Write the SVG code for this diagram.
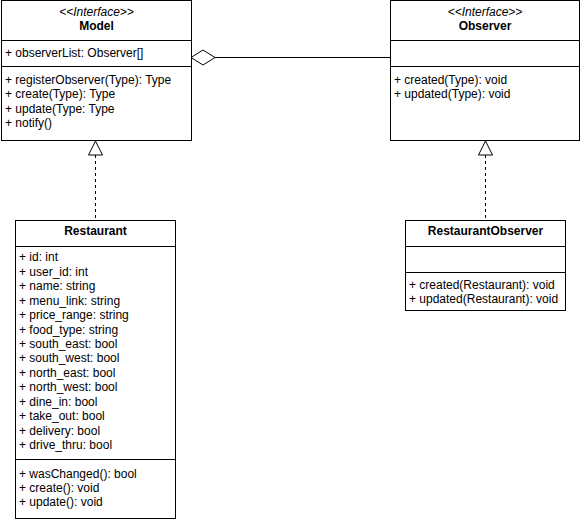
<svg xmlns="http://www.w3.org/2000/svg" width="581" height="521" viewBox="0 0 581 521">
<style>
.box{fill:#fff;stroke:#000;stroke-width:1}
.div{stroke:#000;stroke-width:1}
text{font-family:"Liberation Sans",Arial,Helvetica,sans-serif;font-size:12px;fill:#000}
.st{font-style:italic;text-anchor:middle}
.ti{font-weight:bold;text-anchor:middle}
.edge{fill:none;stroke:#000;stroke-width:1}
.dash{stroke-dasharray:3 3}
.tri{fill:#fff;stroke:#000;stroke-width:1}
</style>
<rect width="581" height="521" fill="#fff"/>
<g id="connectors">
<path class="edge" d="M215 57.5H390"/>
<path class="tri" d="M191 57.5L203 50L215 57.5L203 65Z"/>
<path class="edge dash" d="M95.5 155V220"/>
<path class="tri" d="M95.5 141L88.5 155H102.5Z"/>
<path class="edge dash" d="M485.5 155V220"/>
<path class="tri" d="M485.5 141L478.5 155H492.5Z"/>
</g>
<g id="Model">
<rect class="box" x="1.5" y="0.5" width="190" height="140"/>
<line class="div" x1="1.5" y1="40.5" x2="191.5" y2="40.5"/>
<line class="div" x1="1.5" y1="66.5" x2="191.5" y2="66.5"/>
<text class="st" x="96.5" y="16">&lt;&lt;Interface&gt;&gt;</text>
<text class="ti" x="96.5" y="30">Model</text>
<text x="5" y="57">+ observerList: Observer[]</text>
<text x="5" y="84">+ registerObserver(Type): Type</text>
<text x="5" y="98">+ create(Type): Type</text>
<text x="5" y="113">+ update(Type: Type</text>
<text x="5" y="127">+ notify()</text>
</g>
<g id="Observer">
<rect class="box" x="390.5" y="0.5" width="189" height="140"/>
<line class="div" x1="390.5" y1="40.5" x2="579.5" y2="40.5"/>
<line class="div" x1="390.5" y1="66.5" x2="579.5" y2="66.5"/>
<text class="st" x="485" y="16">&lt;&lt;Interface&gt;&gt;</text>
<text class="ti" x="485" y="30">Observer</text>
<text x="394" y="84">+ created(Type): void</text>
<text x="394" y="98">+ updated(Type): void</text>
</g>
<g id="Restaurant">
<rect class="box" x="15.5" y="220.5" width="160" height="298"/>
<line class="div" x1="15.5" y1="246.5" x2="175.5" y2="246.5"/>
<line class="div" x1="15.5" y1="459.5" x2="175.5" y2="459.5"/>
<text class="ti" x="95.5" y="235">Restaurant</text>
<text x="19" y="261">+ id: int</text>
<text x="19" y="276">+ user_id: int</text>
<text x="19" y="290">+ name: string</text>
<text x="19" y="305">+ menu_link: string</text>
<text x="19" y="319">+ price_range: string</text>
<text x="19" y="334">+ food_type: string</text>
<text x="19" y="348">+ south_east: bool</text>
<text x="19" y="362">+ south_west: bool</text>
<text x="19" y="377">+ north_east: bool</text>
<text x="19" y="391">+ north_west: bool</text>
<text x="19" y="406">+ dine_in: bool</text>
<text x="19" y="420">+ take_out: bool</text>
<text x="19" y="435">+ delivery: bool</text>
<text x="19" y="449">+ drive_thru: bool</text>
<text x="19" y="478">+ wasChanged(): bool</text>
<text x="19" y="492">+ create(): void</text>
<text x="19" y="506">+ update(): void</text>
</g>
<g id="RestaurantObserver">
<rect class="box" x="405.5" y="220.5" width="160" height="90"/>
<line class="div" x1="405.5" y1="246.5" x2="565.5" y2="246.5"/>
<line class="div" x1="405.5" y1="272.5" x2="565.5" y2="272.5"/>
<text class="ti" x="485.5" y="235">RestaurantObserver</text>
<text x="409" y="289">+ created(Restaurant): void</text>
<text x="409" y="303">+ updated(Restaurant): void</text>
</g>
</svg>
